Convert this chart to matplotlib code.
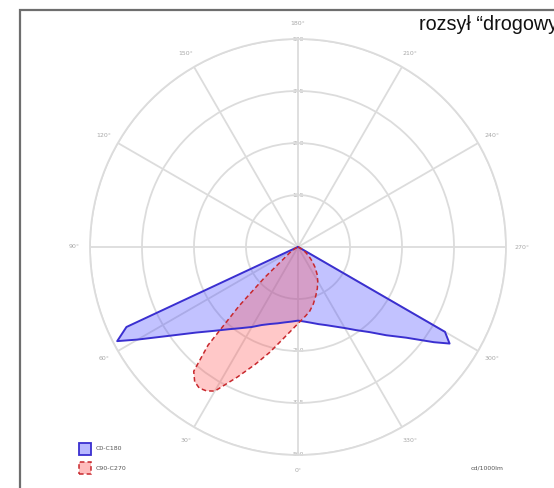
import numpy as np
import matplotlib.pyplot as plt
from matplotlib.patches import Rectangle

# luminous intensity, cd/1000lm, gamma measured from nadir
gamma_c0 = [0, 5, 10, 15, 20, 25, 30, 35, 40, 45, 50, 55, 60, 62.5, 65, 67.5, 70, 80, 90]
cd_c0 = [177, 180, 184, 190, 197, 207, 222, 238, 258, 285, 320, 371, 445, 490, 455, 8, 3, 1, 0]

gamma_c180 = [0, 5, 10, 15, 20, 25, 30, 35, 40, 45, 50, 55, 57.5, 60, 62.5, 65, 70, 80, 90]
cd_c180 = [177, 180, 185, 192, 200, 211, 225, 244, 267, 300, 339, 399, 432, 408, 8, 3, 1, 0, 0]

gamma_c90 = [0, 5, 10, 15, 20, 25, 30, 32.5, 35, 37.5, 40, 42.5, 45, 47.5, 50, 55, 60, 65, 70, 90]
cd_c90 = [184, 203, 228, 262, 300, 345, 400, 410, 414, 408, 390, 320, 200, 110, 50, 25, 10, 5, 2, 0]

gamma_c270 = [0, 5, 10, 15, 20, 25, 30, 35, 40, 45, 50, 55, 60, 70, 80, 90]
cd_c270 = [184, 170, 158, 142, 125, 110, 95, 80, 64, 48, 34, 22, 12, 4, 1, 0]

rings = [125, 250, 375, 500]
angles = list(range(0, 360, 30))


def outline(g_left, v_left, g_right, v_right):
    # right half goes -90..0, left half 0..90 (clockwise from nadir)
    th = [-np.radians(g) for g in g_right[::-1]] + [np.radians(g) for g in g_left]
    r = list(v_right[::-1]) + list(v_left)
    return th + th[:1], r + r[:1]


fig = plt.figure(figsize=(5.54, 4.88), dpi=100)
fig.patch.set_facecolor('white')

cx, cy, rad = 298 / 554, 1 - 247 / 488, 208
ax = fig.add_axes([cx - rad / 554, cy - rad / 488, 2 * rad / 554, 2 * rad / 488], projection='polar')
ax.set_theta_zero_location('S')
ax.set_theta_direction(-1)
ax.set_ylim(0, 500)

grid_col = '#dcdcdc'
ax.set_thetagrids(angles, labels=['%d°' % a for a in angles], fontsize=4.5, color='#a8a8a8')
ax.tick_params(axis='x', pad=1)
ax.set_rgrids(rings, labels=[''] * len(rings))
ax.grid(color=grid_col, linewidth=1.3)
ax.spines['polar'].set_color(grid_col)
ax.spines['polar'].set_linewidth(1.3)

for rv in rings:
    for th in (np.pi, 0):
        if th == 0 and rv == 125:
            continue
        ax.text(th, rv, str(rv), fontsize=4.3, color='#a8a8a8', ha='center', va='center',
                bbox=dict(facecolor='white', edgecolor='none', pad=0.3), zorder=1)

th_b, r_b = outline(gamma_c0, cd_c0, gamma_c180, cd_c180)
ax.fill(th_b, r_b, color='#4444ff', alpha=0.32, zorder=2, linewidth=0)
ax.plot(th_b, r_b, color='#3a2fd0', linewidth=1.4, zorder=4)

th_r, r_r = outline(gamma_c90, cd_c90, gamma_c270, cd_c270)
ax.fill(th_r, r_r, color='#ff5555', alpha=0.32, zorder=3, linewidth=0)
ax.plot(th_r, r_r, color='#c8282d', linewidth=1.1, linestyle=(0, (3, 2)), zorder=4)

# frame
fig.add_artist(Rectangle((20 / 554, -0.1), 1.2, 1.1 - 10 / 488, transform=fig.transFigure,
                         fill=False, edgecolor='#6e6e6e', linewidth=1.6))

fig.text(419 / 554, 1 - 25 / 488, 'rozsył “drogowy”', fontsize=14.2, family='Liberation Sans',
         ha='left', va='center', color='#111111')

# legend
fig.add_artist(Rectangle((79 / 554, 1 - 455 / 488), 12 / 554, 12 / 488, transform=fig.transFigure,
                         facecolor='#b8b8ff', edgecolor='#3a2fd0', linewidth=1.3))
fig.add_artist(Rectangle((79 / 554, 1 - 474 / 488), 12 / 554, 12 / 488, transform=fig.transFigure,
                         facecolor='#ffbcbc', edgecolor='#c8282d', linewidth=1.1, linestyle=(0, (3, 2))))
fig.text(96 / 554, 1 - 449 / 488, 'C0-C180', fontsize=4.5, color='#555555', va='center')
fig.text(96 / 554, 1 - 468 / 488, 'C90-C270', fontsize=4.5, color='#555555', va='center')
fig.text(487 / 554, 1 - 468 / 488, 'cd/1000lm', fontsize=4.5, color='#555555', va='center', ha='center')

plt.savefig('out.png', dpi=100)
